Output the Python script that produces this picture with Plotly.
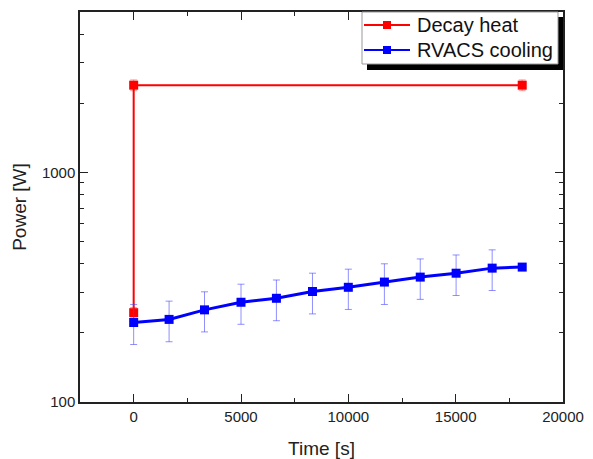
import plotly.graph_objects as go

# Data
decay_t = [0, 0, 18100]
decay_p = [245, 2400, 2400]
decay_err = [13, 130, 130]

rvacs_t = [0, 1650, 3300, 5000, 6650, 8330, 10000, 11680, 13350, 15020, 16700, 18100]
rvacs_p = [222, 229, 252, 272, 283, 303, 316, 333, 350, 364, 383, 387]
rvacs_err = [44, 46, 50, 54, 57, 61, 63, 67, 70, 73, 77, 0]

x_ticks = [0, 5000, 10000, 15000, 20000]
y_ticks = [100, 1000]

series_names = ["Decay heat", "RVACS cooling"]
series_colors = ["#ff0000", "#0000ff"]

FONT = "Arial, Liberation Sans, sans-serif"
INK = "#222"

# page has an 8px body margin; plot area on page spans x 80..563, y 12..402
PL, PR, PT, PB = 80, 563, 12, 402
def px(x):
    return (x - PL) / (PR - PL)
def py(y):
    return (PB - y) / (PB - PT)

fig = go.Figure()
fig.add_trace(go.Scatter(
    x=decay_t, y=decay_p, mode="lines+markers", name=series_names[0],
    line=dict(color=series_colors[0], width=2),
    marker=dict(symbol="square", size=9, color=series_colors[0]),
    error_y=dict(type="data", array=decay_err, symmetric=True,
                 color="rgba(255,60,60,0.5)", thickness=1, width=3.5),
))
fig.add_trace(go.Scatter(
    x=rvacs_t, y=rvacs_p, mode="lines+markers", name=series_names[1],
    line=dict(color=series_colors[1], width=3),
    marker=dict(symbol="square", size=9, color=series_colors[1]),
    error_y=dict(type="data", array=rvacs_err, symmetric=True,
                 color="rgba(70,70,255,0.6)", thickness=1, width=3.5),
))

axis_common = dict(
    showline=True, linecolor=INK, linewidth=1.5, mirror="ticks",
    ticks="inside", ticklen=8, tickwidth=1.2, tickcolor=INK,
    showgrid=False, zeroline=False, automargin=False,
    tickfont=dict(family=FONT, size=15, color=INK),
)

fig.update_xaxes(
    range=[-2500, 20000], tickvals=x_ticks, ticktext=[str(v) for v in x_ticks],
    minor=dict(ticks="inside", ticklen=4, tickcolor=INK, dtick=2500, tick0=0),
    title=dict(text="Time [s]", font=dict(family=FONT, size=19, color=INK), standoff=18),
    **axis_common,
)
fig.update_yaxes(
    type="log", range=[2, 3.699], tickvals=y_ticks, ticktext=[str(v) for v in y_ticks],
    minor=dict(ticks="inside", ticklen=4, tickcolor=INK,
               tickvals=[200, 300, 400, 500, 600, 700, 800, 900, 2000, 3000, 4000]),
    title=dict(text="Power [W]", font=dict(family=FONT, size=19, color=INK), standoff=10),
    **axis_common,
)

# custom legend with drop shadow
shapes = [
    dict(type="rect", xref="paper", yref="paper",
         x0=px(367), x1=px(563), y0=py(70), y1=py(17),
         fillcolor="black", line=dict(width=0), layer="above"),
    dict(type="rect", xref="paper", yref="paper",
         x0=px(362), x1=px(558), y0=py(64), y1=py(12),
         fillcolor="white", line=dict(color="#999", width=1), layer="above"),
]
annotations = []
for i, (name, col) in enumerate(zip(series_names, series_colors)):
    yc = 25 + 25 * i
    shapes.append(dict(type="line", xref="paper", yref="paper",
                       x0=px(364), x1=px(410), y0=py(yc), y1=py(yc),
                       line=dict(color=col, width=2), layer="above"))
    shapes.append(dict(type="rect", xref="paper", yref="paper",
                       x0=px(383), x1=px(391), y0=py(yc + 4), y1=py(yc - 4),
                       fillcolor=col, line=dict(width=0), layer="above"))
    annotations.append(dict(text=name, xref="paper", yref="paper",
                            x=px(415), y=py(yc), xanchor="left", yanchor="middle",
                            showarrow=False,
                            font=dict(family=FONT, size=20, color="#111")))

fig.update_layout(
    width=585, height=451,
    margin=dict(l=72, r=30, t=4, b=57),
    paper_bgcolor="white", plot_bgcolor="white",
    showlegend=False,
    shapes=shapes, annotations=annotations,
    font=dict(family=FONT),
)

fig.write_html("out.html")
